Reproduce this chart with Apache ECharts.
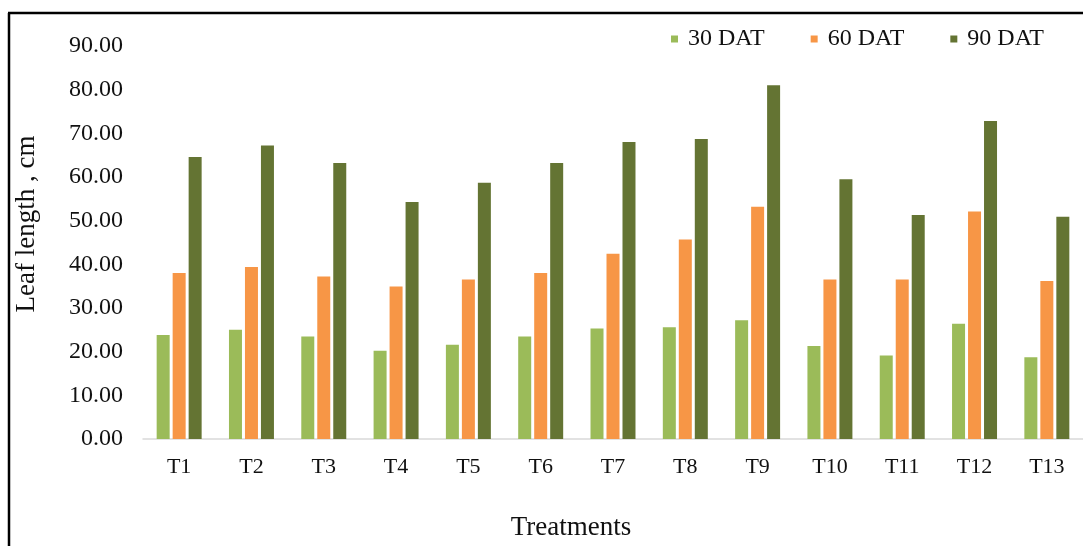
<!DOCTYPE html>
<html>
<head>
<meta charset="utf-8">
<script src="https://cdn.jsdelivr.net/npm/echarts@6/dist/echarts.min.js"></script>
<style>
  html, body { margin: 0; padding: 0; background: #fff; }
  #chart { width: 1083px; height: 546px; }
</style>
</head>
<body>
<div id="chart"></div>
<script>
// Leaf length (cm) per treatment at 30, 60 and 90 days after transplanting
const treatments = ['T1', 'T2', 'T3', 'T4', 'T5', 'T6', 'T7', 'T8', 'T9', 'T10', 'T11', 'T12', 'T13'];
const dat30 = [23.8, 25.0, 23.5, 20.2, 21.6, 23.5, 25.3, 25.6, 27.2, 21.3, 19.1, 26.4, 18.7];
const dat60 = [38.0, 39.4, 37.2, 34.9, 36.5, 38.0, 42.4, 45.7, 53.2, 36.5, 36.5, 52.1, 36.2];
const dat90 = [64.6, 67.2, 63.2, 54.3, 58.7, 63.2, 68.0, 68.7, 81.0, 59.5, 51.3, 72.8, 50.9];
const seriesNames = ['30 DAT', '60 DAT', '90 DAT'];
const yTicks = { min: 0, max: 90, interval: 10 };

const FONT = '"Liberation Serif", "Times New Roman", serif';
const TEXT = '#111';
const colors = ['#9BBB59', '#F79646', '#647433'];

const chart = echarts.init(document.getElementById('chart'), null, { renderer: 'canvas' });

const barSeries = [dat30, dat60, dat90].map((values, i) => ({
  name: seriesNames[i],
  type: 'bar',
  data: values,
  barWidth: 13,
  barGap: '23%',
  itemStyle: { color: colors[i] }
}));

chart.setOption({
  animation: false,
  backgroundColor: '#fff',
  color: colors,
  grid: { left: 143, top: 46, width: 951, height: 393, containLabel: false },
  legend: {
    data: seriesNames,
    left: 666,
    top: 22,
    icon: 'rect',
    itemWidth: 7,
    itemHeight: 7,
    itemGap: 46,
    textStyle: { fontFamily: FONT, fontSize: 24, color: TEXT, padding: [0, 0, 0, 5] }
  },
  xAxis: {
    type: 'category',
    data: treatments,
    axisLine: { show: true, lineStyle: { color: '#D9D9D9', width: 1.5 } },
    axisTick: { show: false },
    axisLabel: { fontFamily: FONT, fontSize: 22, color: TEXT, margin: 17 },
    splitLine: { show: false }
  },
  yAxis: {
    type: 'value',
    min: yTicks.min,
    max: yTicks.max,
    interval: yTicks.interval,
    axisLine: { show: false },
    axisTick: { show: false },
    splitLine: { show: false },
    axisLabel: {
      fontFamily: FONT, fontSize: 24, color: TEXT, margin: 20,
      formatter: v => v.toFixed(2)
    }
  },
  series: barSeries,
  graphic: [
    // outer frame: top and left edges
    { type: 'line', shape: { x1: 8, y1: 13, x2: 1083, y2: 13 }, style: { stroke: '#000', lineWidth: 2.5 } },
    { type: 'line', shape: { x1: 9, y1: 13, x2: 9, y2: 546 }, style: { stroke: '#000', lineWidth: 2.5 } },
    // axis titles
    {
      type: 'text', x: 27, y: 224, rotation: Math.PI / 2,
      style: { text: 'Leaf length , cm', font: '27px ' + FONT, fill: TEXT, textAlign: 'center', textVerticalAlign: 'middle' }
    },
    {
      type: 'text', x: 571, y: 528,
      style: { text: 'Treatments', font: '27px ' + FONT, fill: TEXT, textAlign: 'center', textVerticalAlign: 'middle' }
    }
  ]
});
</script>
</body>
</html>
